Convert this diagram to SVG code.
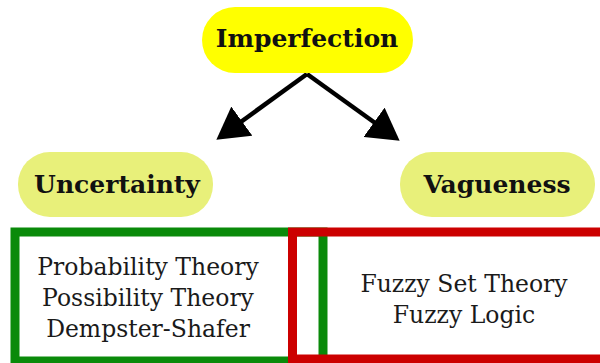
<svg xmlns="http://www.w3.org/2000/svg" width="600" height="363" viewBox="0 0 600 363">
<style>
.bold{font-family:"DejaVu Serif","Liberation Serif",serif;font-weight:bold;fill:#111;text-anchor:middle;font-size:25px}
.reg{font-family:"DejaVu Serif","Liberation Serif",serif;fill:#1a1a1a;text-anchor:middle;font-size:23.5px}
.pill{fill:#e8f07a}
</style>
<defs>
<marker id="ah" markerWidth="8" markerHeight="8" refX="6" refY="4" orient="auto" markerUnits="strokeWidth">
<path d="M0,0 L7,4 L0,8 Z" fill="#000"/>
</marker>
</defs>
<rect width="600" height="363" fill="#fff"/>
<g id="connectors" stroke="#000" stroke-width="4.5" fill="none">
<path d="M307,74 L220,137" marker-end="url(#ah)"/>
<path d="M307,74 L396,138" marker-end="url(#ah)"/>
</g>
<g id="imperfection">
<rect x="202" y="7" width="211" height="66" rx="33" fill="#ffff00"/>
<text class="bold" x="307" y="47">Imperfection</text>
</g>
<g id="uncertainty">
<rect class="pill" x="18" y="152" width="195" height="65" rx="32"/>
<text class="bold" x="117" y="193">Uncertainty</text>
</g>
<g id="vagueness">
<rect class="pill" x="400" y="152" width="195" height="65" rx="32"/>
<text class="bold" x="497" y="193">Vagueness</text>
</g>
<g id="uncertainty-box">
<rect x="15" y="232" width="308" height="129" fill="none" stroke="#0a8a0a" stroke-width="9"/>
<text class="reg" x="148" y="275">Probability Theory</text>
<text class="reg" x="148" y="306">Possibility Theory</text>
<text class="reg" x="148" y="337">Dempster-Shafer</text>
</g>
<g id="vagueness-box">
<rect x="292.5" y="232" width="320" height="127" fill="none" stroke="#cc0000" stroke-width="9"/>
<text class="reg" x="464" y="292">Fuzzy Set Theory</text>
<text class="reg" x="464" y="323">Fuzzy Logic</text>
</g>
</svg>
